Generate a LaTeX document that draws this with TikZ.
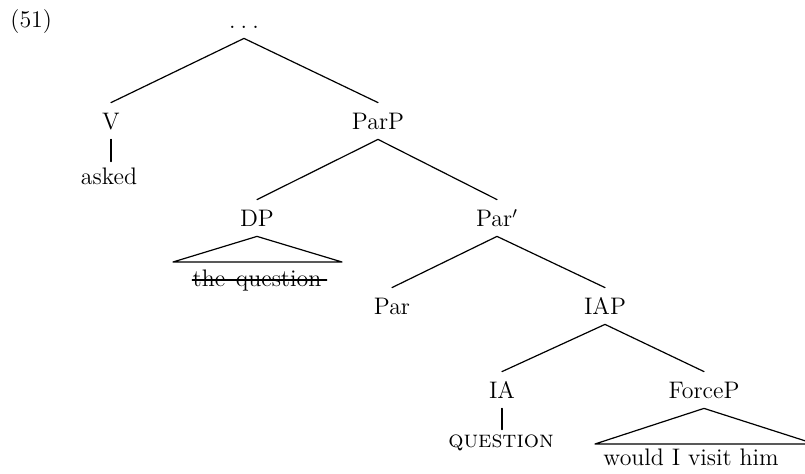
\documentclass[tikz,border=0pt]{standalone}
\usepackage{fontspec}
\usetikzlibrary{calc}
\tikzset{
  lab/.style={anchor=base, text height=9bp, text depth=0pt, inner xsep=0pt, inner ysep=4.5bp, font=\fontsize{12}{14}\selectfont},
  leaf/.style={lab, inner ysep=2.5bp},
  edge/.style={line width=0.6bp, line cap=round, line join=round},
}
\begin{document}
\begin{tikzpicture}[x=0.5bp, y=-0.5bp]
\useasboundingbox (0,0) rectangle (805,474);
\node[lab, anchor=base west] (ex) at (10,28) {(51)};
\node[lab] (top) at (244,29) {.\kern2.6bp.\kern2.6bp.};
\node[lab] (V) at (111,130) {V};
\node[leaf] (asked) at (109,185) {asked};
\node[lab] (ParP) at (378,130) {ParP};
\node[lab] (DP) at (257,227) {DP};
\node[lab] (Parbar) at (497,227) {Par$'$};
\node[lab, inner ysep=0pt] (tq) at (257,287) {the\hspace{1.5bp} question};
\node[lab] (Par) at (392,315) {Par};
\node[lab] (IAP) at (605,315) {IAP};
\node[lab] (IA) at (502,399) {IA};
\node[lab, inner ysep=0pt] (Q) at (501,448) {\textsc{question}};
\node[lab] (ForceP) at (704,399) {ForceP};
\node[lab, inner ysep=0pt] (wv) at (691,466) {would I visit him};
\coordinate (dpL) at (173,262);
\coordinate (dpR) at (342,262);
\coordinate (fpL) at (595,444);
\coordinate (fpR) at (815,444);
\draw[edge] (V.north) -- (top.south) -- (ParP.north);
\draw[edge] (V.south) -- (V.south |- asked.north);
\draw[edge] (DP.north) -- (ParP.south) -- (Parbar.north);
\draw[edge] (dpL) -- (DP.south) -- (dpR) -- cycle;
\draw[edge] (Par.north) -- (Parbar.south) -- (IAP.north);
\draw[edge] (IA.north) -- (IAP.south) -- (ForceP.north);
\draw[edge] (IA.south) -- (IA.south |- Q.north);
\draw[edge] (fpL) -- (ForceP.south) -- (fpR) -- cycle;
\draw[edge] ($(tq.base west)+(0,-7)$) -- ($(tq.base east)+(5,-7)$);
\end{tikzpicture}
\end{document}
